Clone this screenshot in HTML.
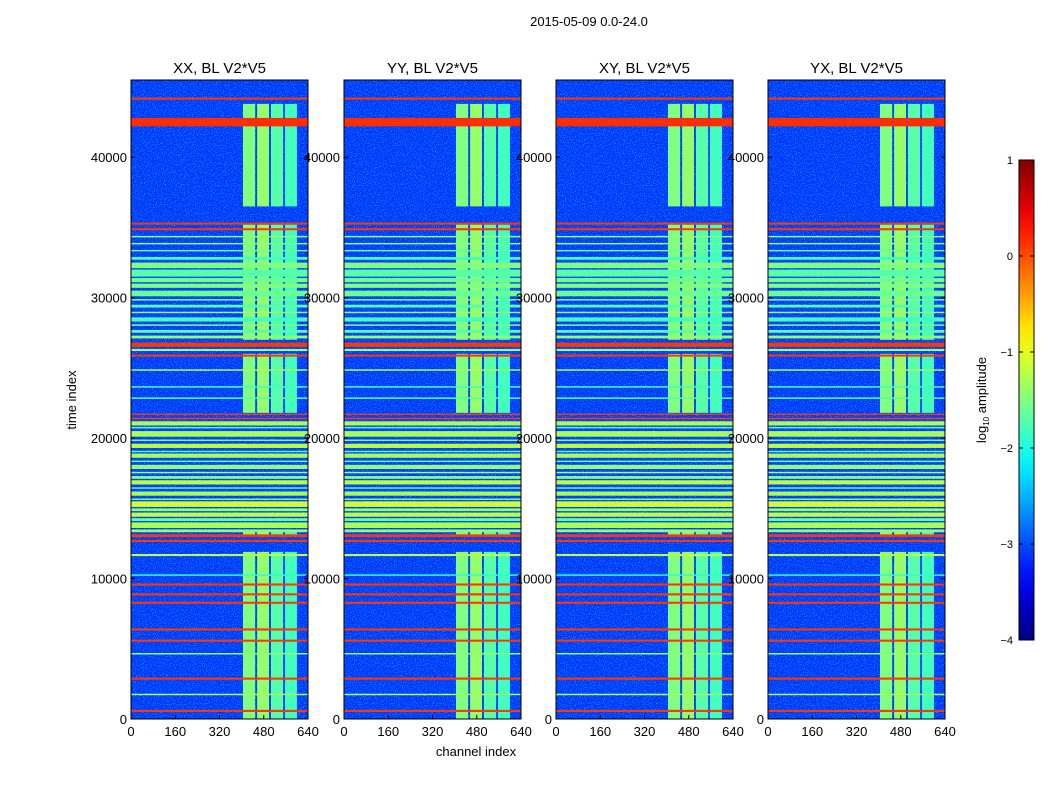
<!DOCTYPE html>
<html><head><meta charset="utf-8"><style>
body{margin:0;background:#fff;}
svg text{font-family:"Liberation Sans",sans-serif;fill:#000;}
</style></head><body>
<svg id="fig" width="1050" height="800" xmlns="http://www.w3.org/2000/svg">
<defs>
<filter id="noise" x="0" y="0" width="100%" height="100%">
<feTurbulence type="fractalNoise" baseFrequency="0.9" numOctaves="2" seed="3"/>
<feColorMatrix type="matrix" values="0 0 0 0 0  0 0 0 0 0.75  0 0 0 0 1  0 0 0 2.2 -1.05"/>
</filter>
</defs>
<text x="589" y="26" font-size="13" text-anchor="middle">2015-05-09 0.0-24.0</text>
<text transform="translate(76,400) rotate(-90)" font-size="13" text-anchor="middle">time index</text>
<text x="476" y="756" font-size="13" text-anchor="middle">channel index</text>
<g id="panels"></g>
<g id="cbar"></g>
<text transform="translate(986,400) rotate(-90)" font-size="13" text-anchor="middle">log<tspan font-size="8" dy="3">10</tspan><tspan dy="-3"> amplitude</tspan></text>
</svg>
<script>
const panelTitles=["XX, BL V2*V5","YY, BL V2*V5","XY, BL V2*V5","YX, BL V2*V5"];
const panelLeft=[131,344,556,768];
const xTicks=[0,160,320,480,640];
const yTicks=[0,10000,20000,30000,40000];
const baseLevel=-3.15;
// vertical bright column bands: [chanStart, chanEnd, level]
const columns=[[405,449,-1.5],[456,499,-1.4],[506,550,-1.7],[557,600,-1.8]];
// time ranges where the columns are present: [tStart,tEnd]
const columnSpans=[[0,11900],[13000,13400],[21800,26000],[27000,35200],[36500,43800]];
// horizontal bands: [tStart, tEnd, level]
const bands=[
[500,650,0.1],[1700,1800,-1.3],[2800,2950,0.1],[4600,4700,-1.4],[5500,5650,0.1],[6300,6450,0.1],
[8200,8350,0.1],[8800,8950,0.1],[9500,9650,0.1],[10200,10300,-1.9],[11600,11750,-1.2],
[12600,12750,0.1],[12950,13150,0.1],[13300,13500,-1.4],
[13600,14000,-1.3],[14100,14300,-1.6],[14400,14700,-1.2],[14800,15000,-1.4],[15100,15500,-1.1],[15600,15700,-1.5],
[15900,16200,-1.3],[16400,16500,-1.7],[16700,17000,-1.2],[17100,17300,-1.5],[17500,17600,-1.3],[17800,18100,-1.4],
[18300,18400,-1.6],[18600,18900,-1.3],[19000,19100,-1.7],[19300,19600,-1.2],[19800,19900,-1.5],[20100,20500,-1.3],
[20700,20800,-1.6],[20900,21200,-1.3],[21350,21450,0.1],[21650,21750,0.1],
[22800,22900,-1.7],[23600,23700,-1.8],[24800,24900,-1.3],[25800,25950,0.1],[26200,26350,-1.3],[26500,26800,0.1],
[27100,27300,-1.4],[27500,27700,-1.7],[28000,28100,-1.5],[28300,28600,-1.8],[28900,29000,-1.4],[29300,29500,-1.7],
[29800,29900,-1.5],[30100,30500,-1.6],[30700,31000,-1.5],[31100,31400,-1.6],[31500,32000,-1.7],[32100,32500,-1.5],
[32700,32900,-1.8],[33300,33400,-1.6],[33800,33900,-1.4],[34300,34400,-1.4],[34800,34950,0.1],[35200,35350,0.1],
[42200,42800,0.15],[44100,44250,0.1]
];
function jet(v){ // v in [-4,1]
 let t=Math.max(0,Math.min(1,(v+4)/5));
 const f=(x)=>Math.max(0,Math.min(1,x));
 let r=f(1.5-Math.abs(4*t-3)),g=f(1.5-Math.abs(4*t-2)),b=f(1.5-Math.abs(4*t-1));
 return `rgb(${Math.round(r*255)},${Math.round(g*255)},${Math.round(b*255)})`;
}
const NS="http://www.w3.org/2000/svg";
const W=177,top0=80,bot=719,tMax=45500;
const yS=t=>bot-(t/tMax)*(bot-top0);
function mk(tag,attrs,parent){const e=document.createElementNS(NS,tag);for(const k in attrs)e.setAttribute(k,attrs[k]);parent.appendChild(e);return e;}
const panels=document.getElementById('panels');
panelTitles.forEach((title,pi)=>{
 const x0=panelLeft[pi];
 const xS=c=>x0+c/640*W;
 const g=mk('g',{},panels);
 
 
 const bg=mk('rect',{x:x0,y:top0,width:W,height:bot-top0,fill:jet(baseLevel)},g);
 
 
 const nz=mk('rect',{x:x0,y:top0,width:W,height:bot-top0,fill:'#fff',filter:'url(#noise)'},g);
 
 
 columnSpans.forEach(sp=>{columns.forEach(c=>{
  const r=mk('rect',{x:xS(c[0]),y:yS(sp[1]),width:xS(c[1])-xS(c[0]),height:yS(sp[0])-yS(sp[1]),fill:jet(c[2])},g);
  
  
 });});
 bands.forEach(b=>{
  const h=Math.max(1.5,yS(b[0])-yS(b[1]));
  const r=mk('rect',{x:x0,y:yS(b[1]),width:W,height:h,fill:jet(b[2])},g);
  
  
 });
 const fr=mk('rect',{x:x0,y:top0,width:W,height:bot-top0,fill:'none',stroke:'#000','stroke-width':1},g);
 
 
 const tt=mk('text',{x:x0+W/2,y:73,'font-size':15,'text-anchor':'middle'},g);tt.textContent=title;
 
 
 xTicks.forEach(v=>{
  mk('line',{x1:xS(v),x2:xS(v),y1:bot,y2:bot-4,stroke:'#000'},g);
  const t=mk('text',{x:xS(v),y:736,'font-size':13,'text-anchor':'middle'},g);t.textContent=v;
  
  
 });
 yTicks.forEach(v=>{
  mk('line',{x1:x0,x2:x0+4,y1:yS(v),y2:yS(v),stroke:'#000'},g);
  mk('line',{x1:x0+W,x2:x0+W-4,y1:yS(v),y2:yS(v),stroke:'#000'},g);
  const t=mk('text',{x:x0-4,y:yS(v)+5,'font-size':13,'text-anchor':'end'},g);t.textContent=v;
  
  
 });
});
// colorbar
const cbTicks=[1,0,-1,-2,-3,-4];
const cb=document.getElementById('cbar');
const defs=mk('defs',{},cb);
const lg=mk('linearGradient',{id:'jetg',x1:0,y1:1,x2:0,y2:0},defs);
for(let i=0;i<=20;i++){mk('stop',{offset:i/20,'stop-color':jet(-4+5*i/20)},lg);}
mk('rect',{x:1019,y:160,width:15,height:480,fill:'url(#jetg)',stroke:'#000'},cb);
const cy=v=>160+(1-v)*96;
cbTicks.forEach(v=>{
 mk('line',{x1:1019,x2:1023,y1:cy(v),y2:cy(v),stroke:'#000'},cb);
 mk('line',{x1:1030,x2:1034,y1:cy(v),y2:cy(v),stroke:'#000'},cb);
 const t=mk('text',{x:1013,y:cy(v)+4,'font-size':11,'text-anchor':'end'},cb);t.textContent=v<0?'\u2212'+(-v):v;
 
 
});
</script>
</body></html>
